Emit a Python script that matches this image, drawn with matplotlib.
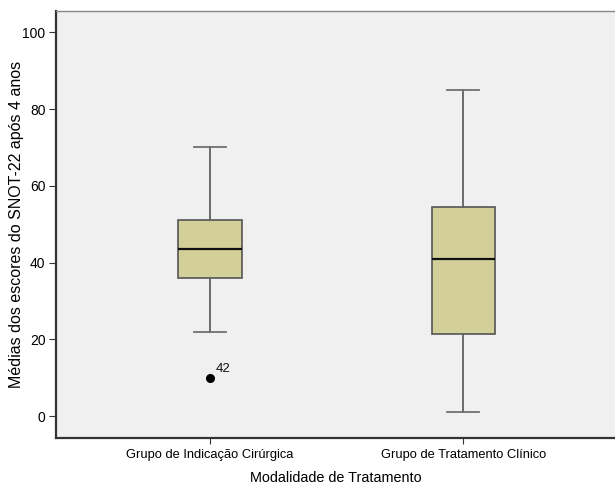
import matplotlib
matplotlib.use('Agg')
import matplotlib.pyplot as plt

plt.rcParams['font.family'] = ['Liberation Sans', 'DejaVu Sans']

# dados
grupos = ['Grupo de Indicação Cirúrgica', 'Grupo de Tratamento Clínico']
whisker_low = [22, 1]
q1 = [36, 21.5]
mediana = [43.5, 41]
q3 = [51, 54.5]
whisker_high = [70, 85]
outliers = [[10], []]
outlier_ids = [['42'], []]

stats = []
for i in range(len(grupos)):
    stats.append({'whislo': whisker_low[i], 'q1': q1[i], 'med': mediana[i],
                  'q3': q3[i], 'whishi': whisker_high[i], 'fliers': outliers[i]})

fig = plt.figure(figsize=(6.15, 4.87), dpi=100)
ax = fig.add_axes([0.091, 0.1006, 0.909, 0.8764])
ax.set_facecolor('#F0F0F0')

pos = [1, 2]
ax.bxp(stats, positions=pos, widths=0.25, patch_artist=True,
       boxprops=dict(facecolor='#D3CF98', edgecolor='#555555', linewidth=1.2),
       medianprops=dict(color='#111111', linewidth=1.6),
       whiskerprops=dict(color='#606060', linewidth=1.3),
       capprops=dict(color='#707070', linewidth=1.3),
       capwidths=0.125,
       flierprops=dict(marker='o', markerfacecolor='black', markeredgecolor='black', markersize=5.5))

for i in range(len(grupos)):
    for v, lab in zip(outliers[i], outlier_ids[i]):
        ax.annotate(lab, (pos[i], v), xytext=(4, 4), textcoords='offset points',
                    fontsize=9.5, color='#111111')

ax.set_xlim(0.391, 2.6)
ax.set_ylim(-5.7, 105.5)
ax.set_yticks([0, 20, 40, 60, 80, 100])
ax.set_xticks(pos)
ax.set_xticklabels(grupos, fontsize=9.3)
ax.tick_params(axis='y', labelsize=10, length=5, color='#333333', pad=2.5)
ax.tick_params(axis='x', length=4, color='#333333', pad=4)

ax.set_xlabel('Modalidade de Tratamento', fontsize=10.4, labelpad=7)
ax.set_ylabel('Médias dos escores do SNOT-22 após 4 anos', fontsize=11.5, labelpad=-1)

ax.spines['left'].set_color('#333333')
ax.spines['left'].set_linewidth(1.6)
ax.spines['bottom'].set_color('#333333')
ax.spines['bottom'].set_linewidth(1.6)
ax.spines['top'].set_color('#888888')
ax.spines['top'].set_linewidth(1.0)
ax.spines['right'].set_visible(False)

fig.savefig('out.png', dpi=100)
